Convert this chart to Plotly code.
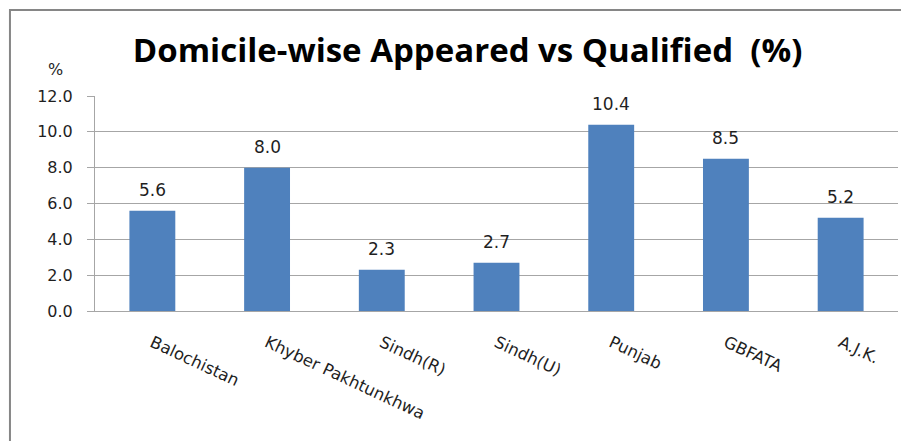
import plotly.graph_objects as go

categories = ["Balochistan", "Khyber Pakhtunkhwa", "Sindh(R)", "Sindh(U)", "Punjab", "GBFATA", "A.J.K."]
values = [5.6, 8.0, 2.3, 2.7, 10.4, 8.5, 5.2]
tick_vals = [0, 2, 4, 6, 8, 10, 12]
tick_text = ["0.0", "2.0", "4.0", "6.0", "8.0", "10.0", "12.0"]

BLUE = "#4F81BD"
FONT = "DejaVu Sans"
TXT = "#1f1f1f"
GRID = "#A6A6A6"

fig = go.Figure()
fig.add_trace(go.Bar(x=categories, y=values, marker=dict(color=BLUE, line=dict(width=0)),
                     width=0.4, hoverinfo="skip"))

for c, v in zip(categories, values):
    fig.add_annotation(x=c, y=v, text=f"{v:.1f}", showarrow=False, yanchor="middle",
                       yshift=21, font=dict(family=FONT, size=17, color=TXT))

fig.add_annotation(xref="paper", yref="paper", x=-0.0486, y=1.121, text="%", showarrow=False,
                   xanchor="center", yanchor="middle",
                   font=dict(family=FONT, size=16, color=TXT))

# outer chart border (left and top edges visible)
fig.add_shape(type="rect", xref="paper", yref="paper", x0=-0.1059, y0=-1.0, x1=1.2, y1=1.4,
              line=dict(color="#868686", width=2), fillcolor="rgba(0,0,0,0)", layer="below")

fig.update_layout(
    width=901, height=433,
    margin=dict(l=87, r=11, t=88, b=130),
    paper_bgcolor="white", plot_bgcolor="white",
    showlegend=False,
    title=dict(text="Domicile-wise Appeared vs Qualified  (%)", x=0.464, xanchor="center",
               xref="paper", y=0.903, yanchor="middle",
               font=dict(family="Open Sans", size=33, color="black", weight="bold")),
    xaxis=dict(type="category", tickangle=25, showgrid=False, showline=True, automargin=False,
               linecolor=GRID, linewidth=1, ticks="",
               tickfont=dict(family=FONT, size=16.5, color=TXT), ticklabelstandoff=15),
    yaxis=dict(range=[0, 12], tickvals=tick_vals, ticktext=tick_text, showgrid=True, automargin=False,
               gridcolor=GRID, gridwidth=1, showline=True, linecolor=GRID,
               ticks="outside", ticklen=7, tickcolor=GRID, zeroline=False,
               tickfont=dict(family=FONT, size=16, color=TXT), ticklabelstandoff=11),
)

fig.write_html("out.html")
